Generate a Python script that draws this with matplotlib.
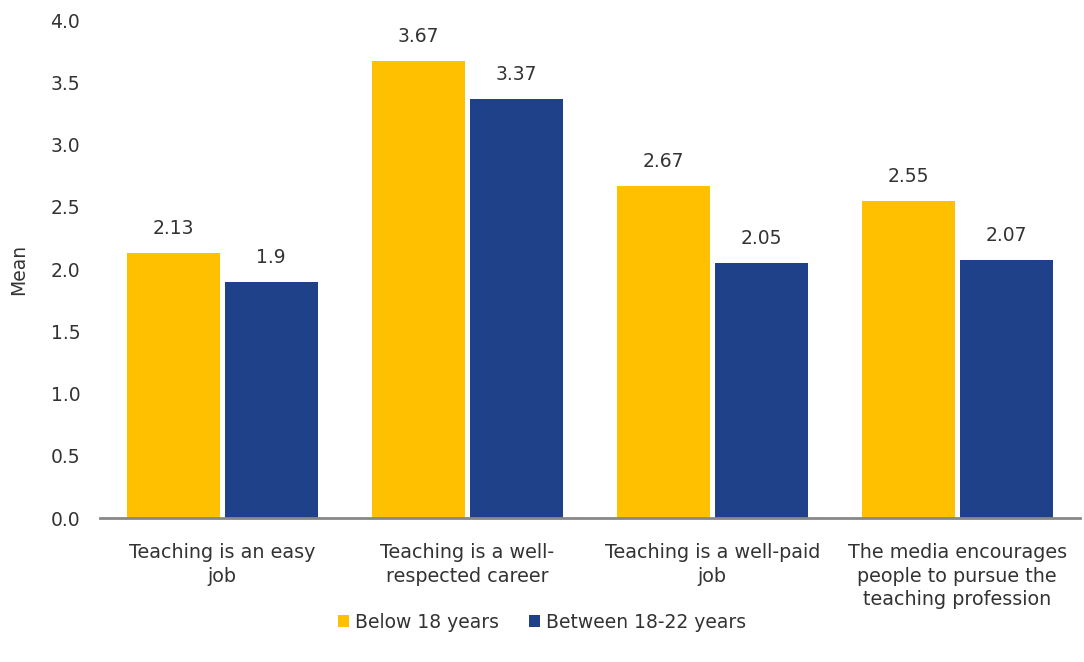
import numpy as np
import matplotlib.pyplot as plt

# Mean agreement scores by age group
categories = [
    "Teaching is an easy\njob",
    "Teaching is a well-\nrespected career",
    "Teaching is a well-paid\njob",
    "The media encourages\npeople to pursue the\nteaching profession",
]
below_18 = [2.13, 3.67, 2.67, 2.55]
between_18_22 = [1.9, 3.37, 2.05, 2.07]
series_names = ["Below 18 years", "Between 18-22 years"]

plt.rcParams["font.family"] = ["DejaVu Sans"]

fig = plt.figure(figsize=(10.84, 6.62), dpi=100)
ax = fig.add_axes([0.092, 0.2175, 0.904, 0.752])

x = np.arange(len(categories))
w = 0.38
b1 = ax.bar(x - 0.2, below_18, w, color="#FFC000", label=series_names[0])
b2 = ax.bar(x + 0.2, between_18_22, w, color="#1F418A", label=series_names[1])

for bars, vals in ((b1, below_18), (b2, between_18_22)):
    for rect, v in zip(bars, vals):
        ax.text(rect.get_x() + rect.get_width() / 2, v + 0.12, f"{v:g}",
                ha="center", va="bottom", fontsize=13.5, color="#333333")

ax.set_xlim(-0.5, 3.5)
ax.set_ylim(0, 4.0)
ax.set_yticks(np.arange(0, 4.01, 0.5))
ax.set_yticklabels([f"{t:.1f}" for t in np.arange(0, 4.01, 0.5)])
ax.set_xticks(x)
ax.set_xticklabels(categories, fontsize=13.8, color="#333333", linespacing=1.3)
ax.tick_params(axis="y", length=0, labelsize=13.5, labelcolor="#333333", pad=14)
ax.tick_params(axis="x", length=0, pad=18)
ax.set_ylabel("Mean", fontsize=13.5, color="#333333", labelpad=16)

for side in ("top", "right", "left"):
    ax.spines[side].set_visible(False)
ax.spines["bottom"].set_color("#888888")
ax.spines["bottom"].set_linewidth(2)

fig.legend(handles=[b1, b2], labels=series_names, loc="lower center",
           bbox_to_anchor=(0.5, 0.02), ncol=2, frameon=False, fontsize=13.5,
           handlelength=0.6, handleheight=0.6, handletextpad=0.3,
           columnspacing=1.6, labelcolor="#333333")

fig.savefig("out.png", dpi=100)
